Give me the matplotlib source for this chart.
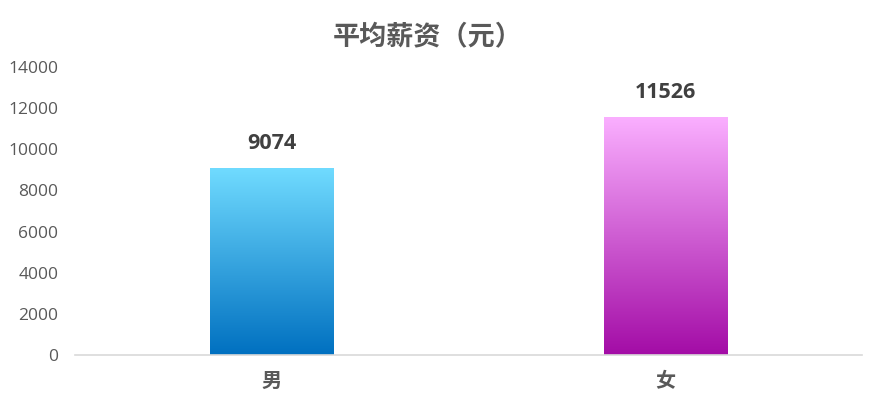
import matplotlib
matplotlib.use("Agg")
import matplotlib.pyplot as plt
import numpy as np
from matplotlib.colors import LinearSegmentedColormap

plt.rcParams['font.family'] = ['Noto Sans CJK SC', 'DejaVu Sans']

categories = ["男", "女"]
values = [9074, 11526]
title = "平均薪资（元）"
yticks = [0, 2000, 4000, 6000, 8000, 10000, 12000, 14000]
grad_colors = [("#0070C0", "#70DBFF"), ("#A30CA6", "#FAAFFF")]

num_font = ['Open Sans', 'Noto Sans CJK SC']

fig = plt.figure(figsize=(8.72, 4.18), dpi=100)
ax = fig.add_axes([0.086, 0.1507, 0.9025, 0.689])

x = np.arange(len(categories))
bars = ax.bar(x, values, width=0.313, color="none", edgecolor="none", zorder=2)

grad = np.linspace(0, 1, 256).reshape(-1, 1)
for bar, (c0, c1) in zip(bars, grad_colors):
    cmap = LinearSegmentedColormap.from_list("g", [c0, c1])
    bx, bw, bh = bar.get_x(), bar.get_width(), bar.get_height()
    ax.imshow(grad, cmap=cmap, origin="lower", aspect="auto",
              extent=[bx, bx + bw, 0, bh], zorder=2)

for xi, v in zip(x, values):
    ax.annotate(f"{v}", (xi, v), xytext=(0, 18), textcoords="offset points",
                ha="center", va="center", fontsize=15.5, fontweight="bold",
                color="#404040", family=num_font)

ax.set_xlim(-0.5, 1.5)
ax.set_ylim(0, 14000)
ax.set_yticks(yticks)
ax.set_yticklabels([str(t) for t in yticks], family=num_font)
ax.set_xticks(x)
ax.set_xticklabels(categories, fontsize=14.5, fontweight="bold", color="#595959")
ax.tick_params(axis="y", length=0, pad=12, labelsize=12.5, labelcolor="#595959")
ax.tick_params(axis="x", length=0, pad=11)
for s in ["top", "right", "left"]:
    ax.spines[s].set_visible(False)
ax.spines["bottom"].set_color("#D9D9D9")
ax.spines["bottom"].set_linewidth(1.2)
ax.spines["bottom"].set_zorder(3)

fig.text(0.49, 0.912, title, ha="center", va="center", fontsize=19.5,
         fontweight="bold", color="#595959")

fig.savefig("out.png", dpi=100)
